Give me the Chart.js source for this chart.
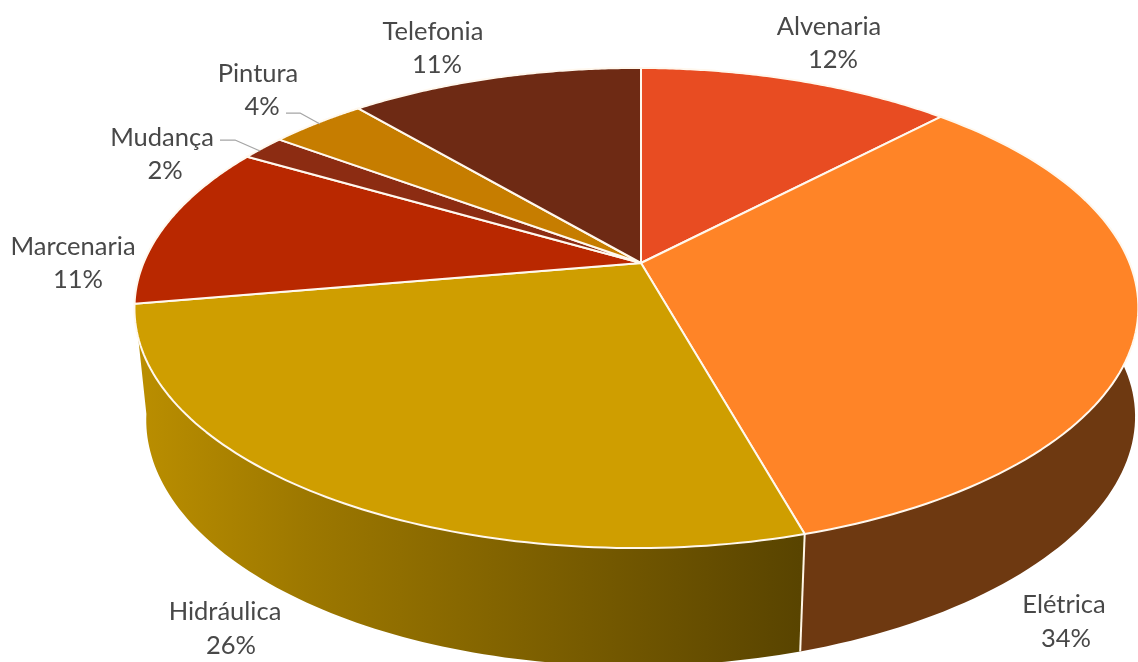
<!DOCTYPE html>
<html lang="pt">
<head>
<meta charset="utf-8">
<title>Pizza 3D</title>
<script src="https://cdn.jsdelivr.net/npm/chart.js@4/dist/chart.umd.min.js"></script>
<style>
html,body{margin:0;padding:0;background:#fff}
#wrap{width:1138px;height:662px;position:relative;overflow:hidden}
</style>
</head>
<body>
<div id="wrap"><canvas id="c"></canvas></div>
<script>
const categories = ['Alvenaria','Elétrica','Hidráulica','Marcenaria','Mudança','Pintura','Telefonia'];
const shares = [12.2, 33.4, 26.7, 11, 1.7, 3.7, 11.3];
const shareLabels = ['12%','34%','26%','11%','2%','4%','11%'];
const colors = ['#E84C22','#FF8427','#CF9E00','#B92800','#8C2C12','#C67D00','#6E2A14'];

/* layout only, not data */
const labelCentres = [[829,27,833,60],[1064,605,1066,639],[225,612,231,646],[73,247,78,280],[162,138,165,171],[258,74,262,107],[433,32,437,65]];
const leaders = {4:[[220,140],[235,140],[260,151]],5:[[286,113],[300,113],[320,124]]};
const P = {cx:641, cy:263, a:493, b:231.6, k:-0.1875, m:0.009, depth:118, shrink:0.985};

function topEdge(t){
  const u=Math.cos(t), v=Math.sin(t), w=1+P.k*v+P.m*u;
  return [P.cx+P.a*u/w, P.cy+P.b*v/w];
}
function bottomEdge(t){
  const p=topEdge(t), u=Math.cos(t), v=Math.sin(t);
  return [641+(p[0]-636.5)*P.shrink-7*v*v, p[1]+P.depth-8*u*u];
}
function shade(hex,f){
  const n=parseInt(hex.slice(1),16);
  return `rgb(${Math.round((n>>16&255)*f)},${Math.round((n>>8&255)*f)},${Math.round((n&255)*f)})`;
}
const STEPS=90;

const pie3d = {
  id:'pie3d',
  beforeDatasetsDraw(chart){
    const ctx=chart.ctx, arcs=chart.getDatasetMeta(0).data;
    ctx.save();
    ctx.lineJoin='round';
    // side wall
    arcs.forEach((arc,i)=>{
      const s=arc.startAngle, e=arc.endAngle;
      if(Math.sin((s+e)/2)<=0) return;
      const g=ctx.createLinearGradient(140,0,800,0);
      g.addColorStop(0,shade(colors[i],0.9));
      g.addColorStop(0.25,shade(colors[i],0.76));
      g.addColorStop(1,shade(colors[i],0.43));
      ctx.beginPath();
      for(let j=0;j<=STEPS;j++){const p=topEdge(s+(e-s)*j/STEPS); j?ctx.lineTo(p[0],p[1]):ctx.moveTo(p[0],p[1]);}
      for(let j=STEPS;j>=0;j--){const p=bottomEdge(s+(e-s)*j/STEPS); ctx.lineTo(p[0],p[1]);}
      ctx.closePath();
      ctx.fillStyle=g; ctx.fill();
    });
    // seams on the visible wall
    arcs.forEach(arc=>{
      const t=arc.startAngle;
      if(Math.sin(t)>0.4){
        const a=topEdge(t), b=bottomEdge(t);
        ctx.beginPath(); ctx.moveTo(a[0],a[1]); ctx.lineTo(b[0],b[1]);
        ctx.strokeStyle='#fff6e6'; ctx.lineWidth=2; ctx.stroke();
      }
    });
    // top faces
    arcs.forEach((arc,i)=>{
      const s=arc.startAngle, e=arc.endAngle;
      ctx.beginPath(); ctx.moveTo(P.cx,P.cy);
      for(let j=0;j<=STEPS;j++){const p=topEdge(s+(e-s)*j/STEPS); ctx.lineTo(p[0],p[1]);}
      ctx.closePath();
      ctx.fillStyle=colors[i]; ctx.fill();
      ctx.strokeStyle='#fff8ee'; ctx.lineWidth=2; ctx.stroke();
    });
    // leader lines
    ctx.strokeStyle='#A5A5A5'; ctx.lineWidth=1.25;
    Object.values(leaders).forEach(l=>{
      ctx.beginPath();
      l.forEach((p,j)=> j?ctx.lineTo(p[0],p[1]):ctx.moveTo(p[0],p[1]));
      ctx.stroke();
    });
    // labels
    ctx.fillStyle='#484848';
    ctx.font='25.5px Lato, Carlito, sans-serif';
    ctx.textAlign='center'; ctx.textBaseline='middle';
    categories.forEach((name,i)=>{
      const q=labelCentres[i];
      ctx.fillText(name,q[0],q[1]);
      ctx.fillText(shareLabels[i],q[2],q[3]);
    });
    ctx.restore();
    return false; // slices are painted above, from the arc elements' own angles
  }
};

new Chart(document.getElementById('c'),{
  type:'pie',
  data:{labels:categories,datasets:[{data:shares,backgroundColor:colors,borderColor:'#fff',borderWidth:2}]},
  options:{
    responsive:true,maintainAspectRatio:false,animation:false,
    plugins:{legend:{display:false},tooltip:{enabled:false}}
  },
  plugins:[pie3d]
});
</script>
</body>
</html>
